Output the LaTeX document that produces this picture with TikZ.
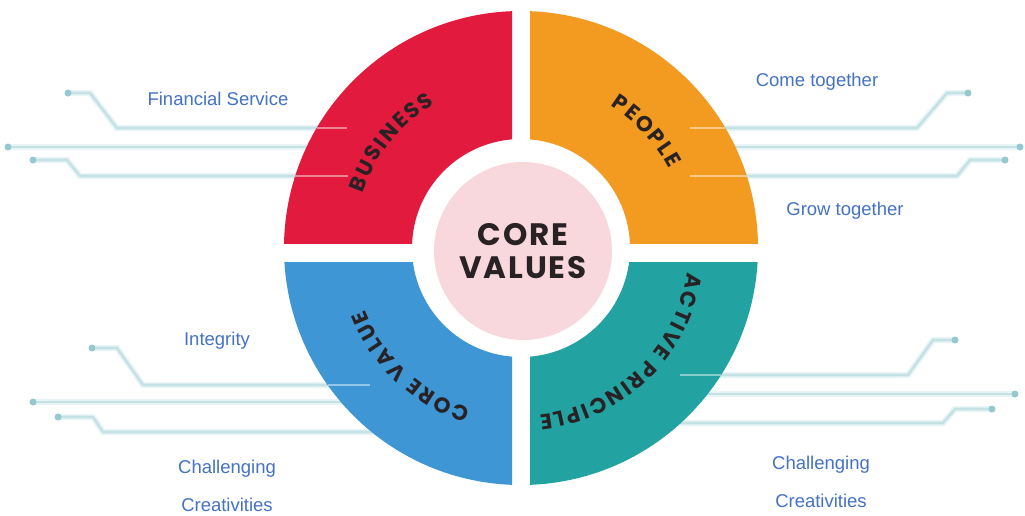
\documentclass[tikz,border=0pt]{standalone}
\usepackage{fontspec}
\setmainfont{Liberation Sans}
\newfontfamily\wheelfont{Poppins}
\newfontfamily\corefont{Poppins}[LetterSpace=6]
\usetikzlibrary{decorations.text}

\definecolor{bizred}{RGB}{226,27,62}
\definecolor{pplorange}{RGB}{243,155,33}
\definecolor{valblue}{RGB}{62,150,213}
\definecolor{actteal}{RGB}{35,162,162}
\definecolor{corepink}{RGB}{248,216,221}
\definecolor{ink}{RGB}{40,34,36}
\definecolor{labelblue}{RGB}{68,114,196}
\definecolor{wirecol}{RGB}{196,226,228}
\definecolor{wireglow}{RGB}{232,244,245}
\definecolor{padcol}{RGB}{150,200,208}

\newcommand\arcfont{\wheelfont\bfseries\fontsize{21.5}{21.5}\selectfont}

\tikzset{
  lbl/.style={text=labelblue, font=\fontsize{18.5}{22}\selectfont},
  wire/.style={draw=wirecol, line width=2.6pt, line join=round,
    preaction={draw=wireglow, line width=6pt}},
  paddot/.style={fill=padcol},
  streak/.style={draw=white, opacity=.45, line width=1.6pt},
  arctext/.style={font=\arcfont, decorate, decoration={text effects along path, text={#1},
    text align=center, text effects/.cd, text along path,
    character widths={font=\arcfont, inner xsep=1pt},
    characters={text=ink, font=\arcfont}}}
}

\begin{document}
\begin{tikzpicture}[x=1pt,y=-1pt]
\useasboundingbox[fill=white] (0,0) rectangle (1025,515);
\coordinate (hub) at (521,248);

\draw[wire] (68,93) -- (90,93) -- (117,128) -- (340,128);
\draw[wire] (8,147) -- (330,147);
\draw[wire] (33,160) -- (67,160) -- (80,176) -- (340,176);
\draw[wire] (968,93) -- (947,93) -- (917,128) -- (700,128);
\draw[wire] (1020,147) -- (720,147);
\draw[wire] (1005,160) -- (970,160) -- (957,176) -- (700,176);
\draw[wire] (92,348) -- (117,348) -- (143,385) -- (350,385);
\draw[wire] (33,402) -- (360,402);
\draw[wire] (58,417) -- (93,417) -- (103,432) -- (390,432);
\draw[wire] (955,340) -- (933,340) -- (908,375) -- (700,375);
\draw[wire] (1015,394) -- (690,394);
\draw[wire] (992,409) -- (955,409) -- (943,423) -- (670,423);
\foreach \p in {(68,93),(8,147),(33,160),(968,93),(1020,147),(1005,160),
                (92,348),(33,402),(58,417),(955,340),(1015,394),(992,409)}
  \fill[paddot] \p circle (3.5);

\foreach \col/\xa/\ya/\xb/\yb in {bizred/0/0/512/243, pplorange/530/0/1025/243,
                                  valblue/0/262/512/515, actteal/530/262/1025/515}{
  \begin{scope}
    \clip (\xa,\ya) rectangle (\xb,\yb);
    \fill[\col, even odd rule] (hub) circle (237) circle (109);
  \end{scope}
}

\draw[streak] (317,128) -- (347,128);
\draw[streak] (295,176) -- (348,176);
\draw[streak] (725,128) -- (690,128);
\draw[streak] (747,176) -- (690,176);
\draw[streak] (328,385) -- (370,385);
\draw[streak] (721,375) -- (680,375);

\node[circle, fill=corepink, minimum size=178pt, align=center, text=ink,
  font=\corefont\bfseries\fontsize{31}{33}\selectfont] (core) at (523,251) {CORE\\VALUES};

\path[arctext=BUSINESS] (hub) ++(176:168pt) arc[start angle=176, end angle=106, radius=168pt];
\path[arctext=PEOPLE] (hub) ++(78:168pt) arc[start angle=78, end angle=8, radius=168pt];
\path[arctext=ACTIVE PRINCIPLE] (hub) ++(5:168pt) arc[start angle=5, end angle=-97, radius=168pt];
\path[arctext=CORE VALUE] (hub) ++(-95:168pt) arc[start angle=-95, end angle=-171, radius=168pt];

\node[lbl] (fin) at (218,99) {Financial Service};
\node[lbl] (come) at (817,82) {Come together};
\node[lbl] (grow) at (845,211) {Grow together};
\node[lbl] (integ) at (217,341) {Integrity};
\node[lbl] (chalL) at (227,469) {Challenging};
\node[lbl] (creaL) at (227,505) {Creativities};
\node[lbl] (chalR) at (821,465) {Challenging};
\node[lbl] (creaR) at (821,501) {Creativities};
\end{tikzpicture}
\end{document}
